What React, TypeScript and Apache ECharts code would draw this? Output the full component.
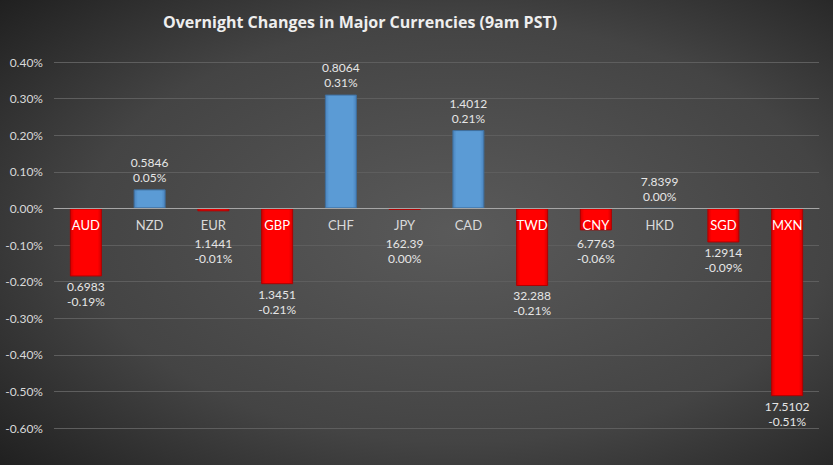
import React, { useEffect, useRef } from "react";
import * as echarts from "echarts";

const currencies = ["AUD", "NZD", "EUR", "GBP", "CHF", "JPY", "CAD", "TWD", "CNY", "HKD", "SGD", "MXN"];
const changes = [-0.186, 0.052, -0.008, -0.207, 0.311, -0.004, 0.214, -0.212, -0.06, 0.0, -0.093, -0.513];
const rates = ["0.6983", "0.5846", "1.1441", "1.3451", "0.8064", "162.39", "1.4012", "32.288", "6.7763", "7.8399", "1.2914", "17.5102"];
const yTicks = { min: -0.6, max: 0.4, interval: 0.1 };
const title = "Overnight Changes in Major Currencies (9am PST)";

const FONT = "Lato, 'Noto Sans', sans-serif";

function fmtPct(v: number): string {
  const r = Math.round(v * 100) / 100 + 0;
  return r.toFixed(2) + "%";
}

export default function App() {
  const ref = useRef<HTMLDivElement>(null);
  useEffect(() => {
    if (!ref.current) return;
    const chart = echarts.init(ref.current, undefined, { renderer: "svg" });
    const blue = new echarts.graphic.LinearGradient(0, 0, 1, 0, [
      { offset: 0, color: "#4a84bf" },
      { offset: 0.12, color: "#5b9bd5" },
      { offset: 0.88, color: "#5b9bd5" },
      { offset: 1, color: "#4a84bf" },
    ]);
    const red = new echarts.graphic.LinearGradient(0, 0, 1, 0, [
      { offset: 0, color: "#d40000" },
      { offset: 0.12, color: "#ff0000" },
      { offset: 0.88, color: "#ff0000" },
      { offset: 1, color: "#d40000" },
    ]);
    chart.setOption({
      animation: false,
      backgroundColor: new echarts.graphic.RadialGradient(0.55, 0.5, 0.75, [
        { offset: 0, color: "#5a5a5a" },
        { offset: 0.6, color: "#444444" },
        { offset: 1, color: "#1f1f1f" },
      ]),
      title: {
        text: title,
        left: 158,
        top: 9,
        textStyle: {
          color: "#eeeeee",
          fontFamily: "'Open Sans', Lato, sans-serif",
          fontSize: 16,
          fontWeight: "bold",
        },
      },
      grid: { left: 54, right: 14, top: 62, bottom: 37, containLabel: false },
      xAxis: {
        type: "category",
        data: currencies,
        axisLine: { onZero: true, lineStyle: { color: "#a6a6a6", width: 1 } },
        axisTick: { show: false },
        axisLabel: { show: false },
        z: 10,
      },
      yAxis: {
        type: "value",
        min: yTicks.min,
        max: yTicks.max,
        interval: yTicks.interval,
        axisLine: { show: false },
        axisTick: { show: false },
        axisLabel: {
          color: "#d9d9d9",
          fontFamily: FONT,
          fontSize: 12,
          margin: 11,
          formatter: (v: number) => fmtPct(v),
        },
        splitLine: { lineStyle: { color: "#5e5e5e", width: 1 } },
      },
      series: [
        {
          type: "bar",
          data: changes.map((v) => ({
            value: v,
            itemStyle: {
              color: v >= 0 ? blue : red,
              borderColor: v >= 0 ? "#3f6f9e" : "#b00000",
              borderWidth: 1,
            },
          })),
          barWidth: 32,
          z: 2,
        },
        {
          type: "custom",
          data: changes.map((v, i) => [i, v]),
          encode: { x: 0, y: 1 },
          z: 5,
          silent: true,
          renderItem: (params: any, api: any) => {
            const i = params.dataIndex;
            const v = changes[i];
            const p = api.coord([api.value(0), api.value(1)]);
            const z0 = api.coord([api.value(0), 0]);
            let y1: number;
            if (v >= 0) {
              y1 = p[1] - 27;
            } else {
              y1 = Math.max(p[1] + 10, 243);
            }
            const style = {
              fill: "#e6e6e6",
              font: `12px ${FONT}`,
              align: "center",
              verticalAlign: "middle",
            };
            return {
              type: "group",
              children: [
                {
                  type: "text",
                  x: z0[0],
                  y: z0[1] + 17,
                  style: {
                    text: currencies[i],
                    fill: v <= -0.05 ? "#ffffff" : "#d9d9d9",
                    font: `13px ${FONT}`,
                    align: "center",
                    verticalAlign: "middle",
                  },
                },
                { type: "text", x: p[0], y: y1, style: { ...style, text: rates[i] } },
                { type: "text", x: p[0], y: y1 + 15, style: { ...style, text: fmtPct(v) } },
              ],
            };
          },
        },
      ],
    });
    return () => chart.dispose();
  }, []);
  return <div ref={ref} style={{ width: 833, height: 465, position: "absolute", left: 0, top: 0 }} />;
}
